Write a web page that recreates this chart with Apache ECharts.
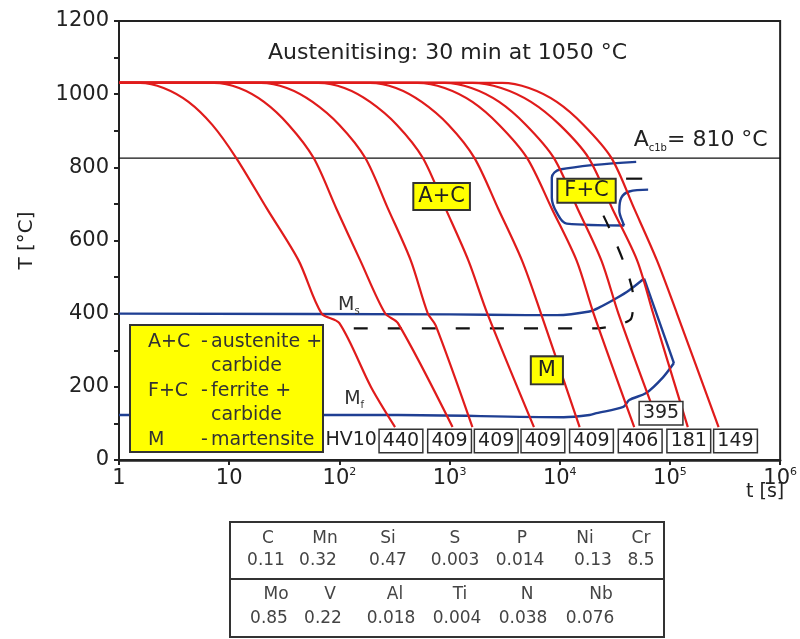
<!DOCTYPE html>
<html><head><meta charset="utf-8">
<script src="https://cdn.jsdelivr.net/npm/echarts/dist/echarts.min.js"></script>
<style>html,body{margin:0;padding:0;background:#fff}#c{width:800px;height:639px}</style>
</head><body><div id="c"></div>
<script>
// ---- cooling curves [time s, temperature °C] ----
const cool1 = [[1,1031],[1.55,1031],[2.54,1017],[4.27,979],[7.03,916],[11.56,826],[22,687],[42.7,545],[68.8,401],[100,374],[194,199],[320,90]];
const cool2 = [[1,1031],[7.3,1031],[12.3,1017],[20.7,979],[34.7,916],[58.3,826],[94,687],[155,545],[260,401],[340,374],[1064,90]];
const cool3 = [[1,1031],[19.4,1031],[33.3,1017],[57.1,979],[100,916],[171.5,826],[276,687],[445,545],[634,401],[748,368],[1612,90]];
const cool4 = [[1,1031],[64.7,1031],[111,1017],[190,979],[333,916],[571,826],[920,687],[1483,545],[2199,401],[5832,90]];
const cool5 = [[1,1031],[190,1031],[326,1017],[559,979],[980,916],[1680,826],[2763,687],[4547,545],[6743,401],[15144,90]];
const cool6 = [[1,1031],[515,1031],[901,1017],[1612,979],[2821,916],[5044,826],[8473,687],[14228,545],[20250,401],[47400,90]];
const cool7 = [[1,1031],[901,1031],[1578,1017],[2821,979],[4940,916],[8831,826],[14527,687],[23895,545],[34007,401],[67436,155]];
const cool8 = [[1,1031],[1612,1031],[2941,1017],[5481,979],[10000,916],[18254,826],[30031,687],[50440,545],[70296,401],[145270,90]];
const cool9 = [[1,1031],[3003,1031],[5257,1017],[9397,979],[16450,916],[29415,826],[47400,687],[76370,545],[115630,401],[276300,90]];

// ---- transformation lines ----
const msLine = [[1,400],[1000,398],[5000,396],[9400,396],[18600,406],[22900,417],[32600,442],[42700,464],[58300,496]];
const msEdge = [[58300,496],[108650,265]];
const mfLine = [[108650,265],[86480,226],[60800,183],[42718,164],[37720,145],[21544,128],[18636,123],[10864,117],[340,123],[1,123]];
const fcStart = [[49390,815],[10000,794],[8472,772],[8472,717],[9397,676],[11563,646],[38510,641]];
const fcFinish = [[63370,739],[42718,734],[36190,717],[34720,682],[37720,646],[38510,641]];
const fcDash = [[40000,769],[56000,769]];
const m50Line = [[24910,668],[46420,445],[44530,387],[32620,368],[21544,360],[98,360]];
const ac1bLine = [[1,825],[1000000,825]];

// ---- hardness HV10 ----
const hardness = [440,409,409,409,409,406,395,181,149];
const hvAnchor = [[362,52],[1000,52],[2650,52],[7030,52],[19400,52],[53700,52],[83000,128],[148300,52],[393500,52]];

// ---- axis ticks ----
const yTicks = [0,200,400,600,800,1000,1200];

// ---- composition table ----
const elems1 = ['C','Mn','Si','S','P','Ni','Cr'];
const vals1 = ['0.11','0.32','0.47','0.003','0.014','0.13','8.5'];
const elems2 = ['Mo','V','Al','Ti','N','Nb'];
const vals2 = ['0.85','0.22','0.018','0.004','0.038','0.076'];

const FONT = 'DejaVu Sans';
const RED = '#e01b1b', BLUE = '#1f3f93', INK = '#222';

const chart = echarts.init(document.getElementById('c'));
const series = [];
[cool1,cool2,cool3,cool4,cool5,cool6,cool7,cool8,cool9].forEach(d => series.push({
  type:'line', data:d, showSymbol:false, smooth:0.3, z:4, silent:true,
  lineStyle:{color:RED, width:2.2}
}));
const blueStyle = {color:BLUE, width:2.4};
[[msLine,0.3],[msEdge,0],[mfLine,0.3],[fcStart,0.35],[fcFinish,0.35]].forEach(([d,s]) => series.push({
  type:'line', data:d, showSymbol:false, smooth:s, z:3, silent:true, lineStyle:blueStyle
}));
series.push({type:'line', data:m50Line, showSymbol:false, smooth:0.25, z:3, silent:true,
  lineStyle:{color:'#111', width:2.2, type:[14,20]}});
series.push({type:'line', data:fcDash, showSymbol:false, z:3, silent:true,
  lineStyle:{color:'#111', width:2.2}});
series.push({type:'line', data:ac1bLine, showSymbol:false, z:2, silent:true,
  lineStyle:{color:'#111', width:1.3}});

// text annotations in data coordinates
const yellowBox = {show:true, position:'inside', backgroundColor:'#ffff00', borderColor:'#333', borderWidth:2,
  padding:[3,4,1,4], fontSize:21, color:INK, fontFamily:FONT};
const subRich = {b:{fontSize:19, lineHeight:24, color:'#333', fontFamily:FONT}, s:{fontSize:10, color:'#333', verticalAlign:'bottom', fontFamily:FONT}};
const annot = [
  {value:[959,1113], label:{show:true, position:'inside', formatter:'Austenitising: 30 min at 1050 °C', fontSize:22, color:INK, fontFamily:FONT}},
  {value:[46400,873], label:{show:true, position:'right', distance:0, formatter:'{b|A}{s|c1b}{b|= 810 °C}',
     rich:{b:{fontSize:22, lineHeight:26, color:INK, fontFamily:FONT}, s:{fontSize:10, color:INK, verticalAlign:'bottom', fontFamily:FONT}}}},
  {value:[847,720], label:Object.assign({}, yellowBox, {formatter:'A+C'})},
  {value:[17500,736], label:Object.assign({}, yellowBox, {formatter:'F+C', padding:[1,6,0,6]})},
  {value:[7640,245], label:Object.assign({}, yellowBox, {formatter:'M', padding:[3,6,2,6]})},
  {value:[122,424], label:{show:true, position:'inside', fontSize:19, formatter:'{b|M}{s|s}', rich:subRich}},
  {value:[136,167], label:{show:true, position:'inside', fontSize:19, formatter:'{b|M}{s|f}', rich:subRich}},
  {value:[128,55], label:{show:true, position:'inside', formatter:'HV10', fontSize:19, color:INK, fontFamily:FONT}}
];
hardness.forEach((h,i) => annot.push({value:hvAnchor[i], label:{show:true, position:'inside', formatter:String(h),
  backgroundColor:'#fff', borderColor:'#333', borderWidth:1.5, padding:[2,3,1,3], fontSize:19, color:INK, fontFamily:FONT}}));
series.push({type:'scatter', data:annot, symbolSize:1, itemStyle:{color:'rgba(0,0,0,0)', opacity:1}, z:10, silent:true,
  labelLayout:{hideOverlap:false}});

// graphic: legend box, axis title, composition table
const g = [];
g.push({type:'rect', shape:{x:130,y:325,width:193,height:127}, style:{fill:'#ffff00', stroke:'#333', lineWidth:2}, z:50});
const legRows = [['A+C','-','austenite +'],['','','carbide'],['F+C','-','ferrite +'],['','','carbide'],['M','-','martensite']];
legRows.forEach((r,i) => {
  const y = 342 + i*24.5;
  [[r[0],148],[r[1],201],[r[2],211]].forEach(([t,x]) => { if (t) g.push({type:'text', z:51,
    style:{text:t, x:x, y:y, font:'19px "DejaVu Sans"', fill:'#333', verticalAlign:'middle'}}); });
});
g.push({type:'text', z:51, style:{text:'t [s]', x:746, y:492, font:'19px "DejaVu Sans"', fill:INK, verticalAlign:'middle'}});
g.push({type:'rect', shape:{x:230,y:522,width:434,height:115}, style:{fill:'none', stroke:'#333', lineWidth:2}, z:50});
g.push({type:'line', shape:{x1:230,y1:579,x2:664,y2:579}, style:{stroke:'#333', lineWidth:2}, z:50});
const c1x = [268,325,388,455,522,585,641], v1x = [266,318,388,455,520,593,641];
const c2x = [276,330,395,460,527,601], v2x = [269,323,391,457,523,590];
const tfont = '17px "DejaVu Sans"';
elems1.forEach((t,i)=>g.push({type:'text', z:51, style:{text:t, x:c1x[i], y:539, font:tfont, fill:'#444', align:'center', verticalAlign:'middle'}}));
vals1.forEach((t,i)=>g.push({type:'text', z:51, style:{text:t, x:v1x[i], y:561, font:tfont, fill:'#444', align:'center', verticalAlign:'middle'}}));
elems2.forEach((t,i)=>g.push({type:'text', z:51, style:{text:t, x:c2x[i], y:595, font:tfont, fill:'#444', align:'center', verticalAlign:'middle'}}));
vals2.forEach((t,i)=>g.push({type:'text', z:51, style:{text:t, x:v2x[i], y:619, font:tfont, fill:'#444', align:'center', verticalAlign:'middle'}}));

chart.setOption({
  animation:false,
  backgroundColor:'#fff',
  grid:{left:119, right:15, top:21, bottom:179, show:true, borderColor:'#222', borderWidth:2, backgroundColor:'transparent'},
  xAxis:{type:'log', logBase:10, min:1, max:1000000, splitNumber:6,
    axisLine:{lineStyle:{color:'#222', width:2.5}},
    axisTick:{show:true, length:5, inside:false, lineStyle:{color:'#222', width:2}},
    minorTick:{show:false}, splitLine:{show:false},
    axisLabel:{margin:7, color:INK, fontFamily:FONT,
      formatter:v => { const e = Math.round(Math.log10(v)); if (e===0) return '{b|1}'; if (e===1) return '{b|10}'; return '{b|10}{s|'+e+'}'; },
      rich:{b:{fontSize:21, lineHeight:24, color:INK, fontFamily:FONT}, s:{fontSize:11, color:INK, verticalAlign:'top', fontFamily:FONT}}}
  },
  yAxis:{type:'value', min:yTicks[0], max:yTicks[yTicks.length-1], interval:200,
    name:'T [°C]', nameLocation:'middle', nameRotate:90, nameGap:82,
    nameTextStyle:{fontSize:20, color:INK, fontFamily:FONT},
    axisLine:{show:true, lineStyle:{color:'#222', width:2}},
    axisTick:{show:true, length:5, lineStyle:{color:'#222', width:2}},
    minorTick:{show:true, splitNumber:2, length:5, lineStyle:{color:'#222', width:2}},
    splitLine:{show:false},
    axisLabel:{margin:10, fontSize:21, color:INK, fontFamily:FONT, formatter:v => String(v)}
  },
  series:series,
  graphic:g
});
</script></body></html>
